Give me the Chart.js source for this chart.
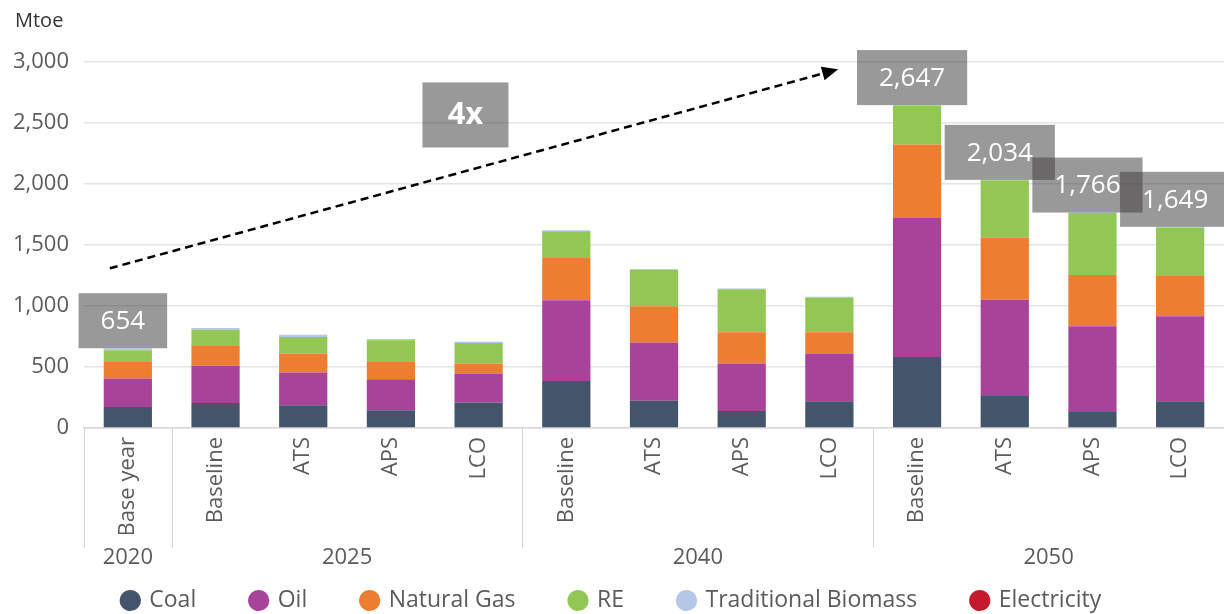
<!DOCTYPE html>
<html>
<head>
<meta charset="utf-8">
<script src="https://cdn.jsdelivr.net/npm/chart.js@4.4.1/dist/chart.umd.min.js"></script>
<style>
  html, body { margin: 0; padding: 0; background: #ffffff; }
  #wrap { width: 1224px; height: 614px; position: relative; }
</style>
</head>
<body>
<div id="wrap"><canvas id="c" width="1224" height="614"></canvas></div>
<script>
// ---- Data ----
const categories = ['Base year', 'Baseline', 'ATS', 'APS', 'LCO', 'Baseline', 'ATS', 'APS', 'LCO', 'Baseline', 'ATS', 'APS', 'LCO'];
const groupLabels = ['2020', '2025', '2040', '2050'];
const groupSpans = [1, 4, 4, 4];
const yTicks = [0, 500, 1000, 1500, 2000, 2500, 3000];

const coal        = [172, 205, 186, 145, 208, 385, 224, 139, 219, 582, 262, 131, 219];
const oil         = [233, 306, 268, 254, 238, 662, 476, 389, 391, 1139, 790, 703, 697];
const naturalGas  = [136, 167, 156, 148, 82, 346, 297, 256, 174, 602, 509, 420, 330];
const re          = [96, 128, 136, 172, 169, 219, 301, 353, 285, 316, 469, 508, 393];
const tradBiomass = [17, 13, 19, 11, 10, 8, 6, 6, 6, 8, 4, 4, 10];
const electricity = [0, 0, 0, 0, 0, 0, 0, 0, 0, 0, 0, 0, 0];

const totalLabels = [654, null, null, null, null, null, null, null, null, 2647, 2034, 1766, 1649];
const growthLabel = '4x';
const yTitle = 'Mtoe';

const FONT = '"Open Sans", "Noto Sans", sans-serif';
const TXT = '#5b5b5b';

// ---- Annotation plugin (boxes, arrow, group labels, separators) ----
const annot = {
  id: 'annot',
  afterInit(chart) {
    const lg = chart.legend;
    if (lg) {
      const orig = lg.fit.bind(lg);
      lg.fit = function () { orig(); this.height = 80; };
    }
  },
  afterDraw(chart) {
    const ctx = chart.ctx;
    const x = chart.scales.x;
    const ca = chart.chartArea;
    const catW = (x.getPixelForValue(1) - x.getPixelForValue(0));

    ctx.save();
    ctx.fillStyle = '#333333';
    ctx.font = '20px ' + FONT;
    ctx.textAlign = 'left';
    ctx.textBaseline = 'middle';
    ctx.fillText(yTitle, 15, 21);

    ctx.strokeStyle = '#d6d6d6';
    ctx.lineWidth = 1;
    let idx = 0;
    ctx.font = '22px ' + FONT;
    ctx.fillStyle = TXT;
    ctx.textAlign = 'center';
    for (let g = 0; g < groupLabels.length; g++) {
      const left = x.getPixelForValue(idx) - catW / 2;
      ctx.beginPath();
      ctx.moveTo(Math.round(left) + 0.5, ca.bottom);
      ctx.lineTo(Math.round(left) + 0.5, ca.bottom + 120);
      ctx.stroke();
      const first = x.getPixelForValue(idx);
      const last = x.getPixelForValue(idx + groupSpans[g] - 1);
      ctx.fillText(groupLabels[g], (first + last) / 2, ca.bottom + 130);
      idx += groupSpans[g];
    }
    ctx.restore();
  },
  afterDatasetsDraw(chart) {
    const ctx = chart.ctx;
    const x = chart.scales.x, y = chart.scales.y;
    const catW = (x.getPixelForValue(1) - x.getPixelForValue(0));
    ctx.save();

    const x0 = x.getPixelForValue(0) - 18, y0 = y.getPixelForValue(1309);
    const x1 = x.getPixelForValue(9) - 0.9 * catW, y1 = y.getPixelForValue(2940);
    const ang = Math.atan2(y1 - y0, x1 - x0);
    const headL = 16, headW = 7;
    const bx = x1 - headL * Math.cos(ang), by = y1 - headL * Math.sin(ang);
    ctx.strokeStyle = '#000000';
    ctx.lineWidth = 2.5;
    ctx.setLineDash([8, 5]);
    ctx.beginPath();
    ctx.moveTo(x0, y0);
    ctx.lineTo(bx, by);
    ctx.stroke();
    ctx.setLineDash([]);
    ctx.fillStyle = '#000000';
    ctx.beginPath();
    ctx.moveTo(x1, y1);
    ctx.lineTo(bx + headW * Math.sin(ang), by - headW * Math.cos(ang));
    ctx.lineTo(bx - headW * Math.sin(ang), by + headW * Math.cos(ang));
    ctx.closePath();
    ctx.fill();

    const boxFill = 'rgba(62,60,60,0.52)';

    const gx = x.getPixelForValue(3) + 0.85 * catW, gy = y.getPixelForValue(2570);
    ctx.fillStyle = boxFill;
    ctx.fillRect(gx - 43, gy - 32, 86, 65);
    ctx.fillStyle = '#ffffff';
    ctx.font = 'bold 31px ' + FONT;
    ctx.textAlign = 'center';
    ctx.textBaseline = 'middle';
    ctx.fillText(growthLabel, gx, gy + 1);

    ctx.font = '26px ' + FONT;
    totalLabels.forEach((v, i) => {
      if (v == null) return;
      const txt = v.toLocaleString('en-US');
      const w = ctx.measureText(txt).width + 44;
      const h = 55;
      const cx = x.getPixelForValue(i) - 5;
      const bottom = y.getPixelForValue(v);
      ctx.fillStyle = boxFill;
      ctx.fillRect(cx - w / 2, bottom - h, w, h);
      ctx.fillStyle = '#ffffff';
      ctx.fillText(txt, cx, bottom - h / 2 + 1);
    });
    ctx.restore();
  }
};

const mk = (label, data, color) => ({
  label, data, backgroundColor: color, borderWidth: 0,
  barPercentage: 0.55, categoryPercentage: 1.0, stack: 's'
});

new Chart(document.getElementById('c'), {
  type: 'bar',
  data: {
    labels: categories,
    datasets: [
      mk('Coal', coal, '#44546A'),
      mk('Oil', oil, '#A8439A'),
      mk('Natural Gas', naturalGas, '#ED7D31'),
      mk('RE', re, '#92C755'),
      mk('Traditional Biomass', tradBiomass, '#B4C7E7'),
      mk('Electricity', electricity, '#C5192D')
    ]
  },
  options: {
    responsive: false,
    animation: false,
    devicePixelRatio: 1,
    layout: { padding: { top: 62, left: 0, right: 0, bottom: 0 } },
    plugins: {
      tooltip: { enabled: false },
      legend: {
        position: 'bottom',
        labels: {
          usePointStyle: true,
          pointStyle: 'circle',
          boxWidth: 15,
          boxHeight: 15,
          padding: 55,
          color: TXT,
          font: { family: FONT, size: 23 }
        }
      }
    },
    scales: {
      x: {
        stacked: true,
        afterFit: (s) => { s.height = 106; },
        grid: { display: true, drawOnChartArea: false, drawTicks: false },
        border: { display: true, color: '#d9d9d9', width: 1.5 },
        ticks: {
          minRotation: 90, maxRotation: 90, autoSkip: false, padding: 9,
          color: TXT, font: { family: FONT, size: 22 }
        }
      },
      y: {
        stacked: true,
        min: 0, max: 3000,
        afterFit: (s) => { s.width = 84; },
        afterBuildTicks: (s) => { s.ticks = yTicks.map(v => ({ value: v })); },
        grid: { color: '#e4e4e4', lineWidth: 1.5, drawTicks: false },
        border: { display: false },
        ticks: {
          padding: 15, color: TXT, font: { family: FONT, size: 22 },
          callback: (v) => Number(v).toLocaleString('en-US')
        }
      }
    }
  },
  plugins: [annot]
});
</script>
</body>
</html>
